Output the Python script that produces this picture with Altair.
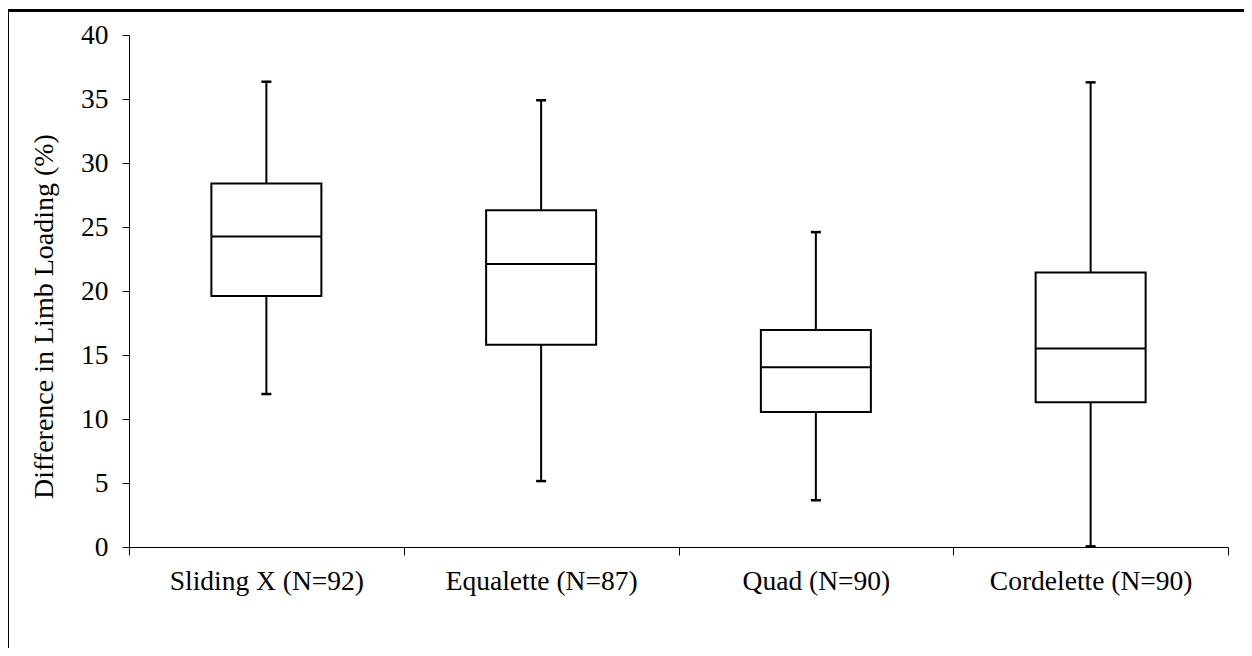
import altair as alt
import pandas as pd

categories = ["Sliding X (N=92)", "Equalette (N=87)", "Quad (N=90)", "Cordelette (N=90)"]
whisker_low = [11.95, 5.15, 3.65, 0.05]
quart1 = [19.6, 15.8, 10.55, 11.3]
medians = [24.25, 22.1, 14.05, 15.5]
quart3 = [28.4, 26.3, 16.95, 21.45]
whisker_high = [36.35, 34.9, 24.6, 36.3]
y_ticks = [0, 5, 10, 15, 20, 25, 30, 35, 40]

df = pd.DataFrame({
    "cat": categories,
    "pos": [i + 0.5 for i in range(len(categories))],
    "lo": whisker_low,
    "q1": quart1,
    "med": medians,
    "q3": quart3,
    "hi": whisker_high,
})

FONT = "Liberation Serif"
names_js = "[" + ",".join("'" + c + "'" for c in categories) + "]"
n = len(categories)
x_vals = [i / 2 for i in range(2 * n + 1)]

x_enc = alt.X(
    "pos:Q",
    scale=alt.Scale(domain=[0, n], nice=False, zero=False, padding=0),
    axis=alt.Axis(
        values=x_vals,
        title=None,
        grid=False,
        labelExpr=f"datum.value % 1 == 0 ? '' : {names_js}[floor(datum.value)]",
        labelOverlap=False,
        labelFlush=False,
        labelLimit=0,
        labelFont=FONT,
        labelFontSize=27.5,
        labelColor="black",
        labelPadding=12,
        tickSize=8,
        tickColor="black",
        tickOpacity={"condition": {"test": "datum.value % 1 != 0", "value": 0}, "value": 1},
        domainColor="black",
        domainWidth=1,
    ),
)

y_scale = alt.Scale(domain=[0, 40], nice=False, zero=True)
y_axis = alt.Axis(
    values=y_ticks,
    title="Difference in Limb Loading (%)",
    grid=False,
    labelFont=FONT,
    labelFontSize=27.5,
    labelColor="black",
    labelPadding=14,
    tickSize=7,
    tickColor="black",
    domainColor="black",
    domainWidth=1,
    titleFont=FONT,
    titleFontSize=28,
    titleFontWeight="normal",
    titleColor="black",
    titlePadding=22,
    titleY=281,
)

base = alt.Chart(df).encode(x=x_enc)

whisk_up = base.mark_rule(color="black", strokeWidth=2).encode(
    y=alt.Y("q3:Q", scale=y_scale, axis=y_axis), y2="hi:Q"
)
whisk_dn = base.mark_rule(color="black", strokeWidth=2).encode(
    y=alt.Y("lo:Q", scale=y_scale, axis=y_axis), y2="q1:Q"
)
box = base.mark_bar(size=110, fill="white", stroke="black", strokeWidth=2).encode(
    y=alt.Y("q1:Q", scale=y_scale, axis=y_axis), y2="q3:Q"
)
median = base.mark_tick(orient="horizontal", size=110, thickness=2, color="black", opacity=1).encode(
    y=alt.Y("med:Q", scale=y_scale, axis=y_axis)
)
cap_hi = base.mark_tick(orient="horizontal", size=10, thickness=2.5, color="black", opacity=1).encode(
    y=alt.Y("hi:Q", scale=y_scale, axis=y_axis)
)
cap_lo = base.mark_tick(orient="horizontal", size=10, thickness=2.5, color="black", opacity=1).encode(
    y=alt.Y("lo:Q", scale=y_scale, axis=y_axis)
)

frame = alt.Chart(alt.Data(values=[{"f": 1}])).mark_rect(
    fill="transparent", stroke="black", strokeWidth=3
).encode(
    x=alt.value(-121.5), x2=alt.value(1400), y=alt.value(-24.5), y2=alt.value(800)
)

chart = alt.layer(frame, whisk_up, whisk_dn, box, median, cap_hi, cap_lo).properties(
    width=1099,
    height=512,
    autosize=alt.AutoSizeParams(type="none"),
    padding={"left": 121, "top": 27, "right": 16, "bottom": 101},
).configure(background="white", view=alt.ViewConfig(stroke="transparent", strokeWidth=0))

chart.save("out.html", embed_options={"renderer": "svg", "actions": False})
